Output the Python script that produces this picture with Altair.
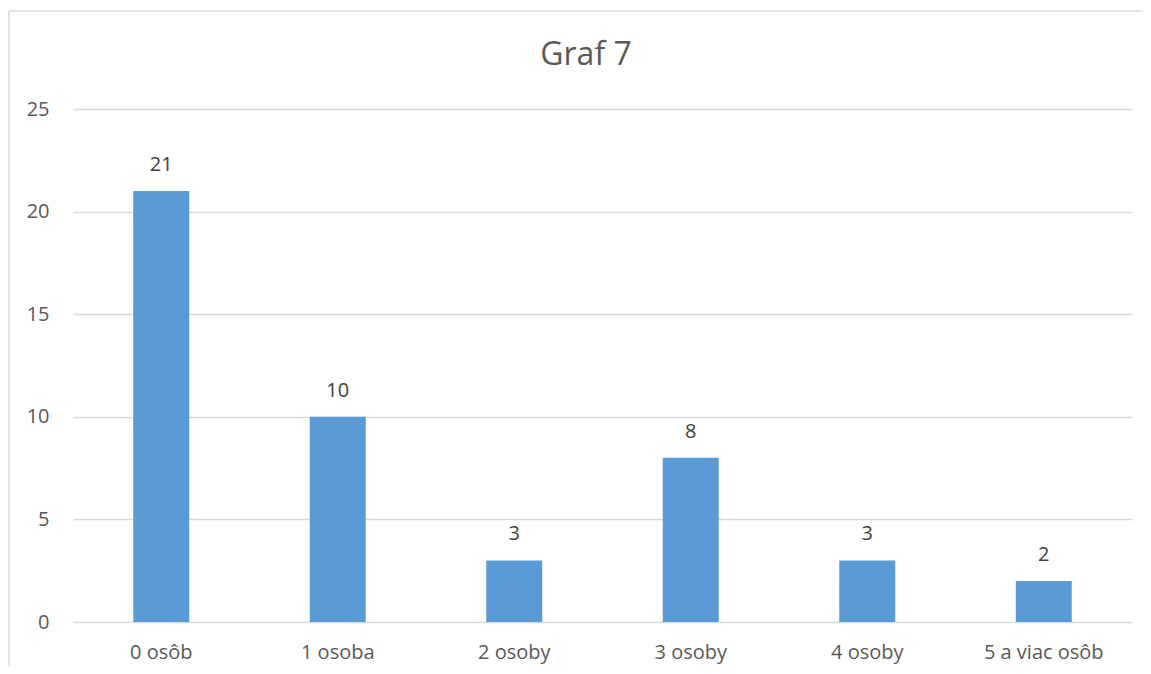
import altair as alt
import pandas as pd

categories = ["0 osôb", "1 osoba", "2 osoby", "3 osoby", "4 osoby", "5 a viac osôb"]
values = [21, 10, 3, 8, 3, 2]
title_text = ["Graf 7"]

df = pd.DataFrame({"kat": categories, "pocet": values})
tdf = pd.DataFrame({"t": title_text})

FONT = "Open Sans"
x = alt.X("kat:N", sort=categories, title=None,
          scale=alt.Scale(paddingInner=0, paddingOuter=0),
          axis=alt.Axis(labelAngle=0, labelFontSize=20, labelColor="#595959",
                        labelFont=FONT, ticks=False, domain=False, labelPadding=20))
y = alt.Y("pocet:Q", title=None,
          scale=alt.Scale(domain=[0, 25], nice=False),
          axis=alt.Axis(values=[0, 5, 10, 15, 20, 25], labelFontSize=20, labelColor="#595959",
                        labelFont=FONT, ticks=False, domain=False, labelPadding=24,
                        gridColor="#d9d9d9", gridWidth=1.3))

bars = alt.Chart(df).mark_bar(size=56, color="#5b9bd5").encode(x=x, y=y)
labels = alt.Chart(df).mark_text(dy=-16, baseline="bottom", fontSize=20, color="#404040",
                                 font=FONT).encode(x=x, y=y, text="pocet:Q")
title = alt.Chart(tdf).mark_text(fontSize=32, font=FONT, color="#595959",
                                 baseline="middle", align="center").encode(
    x=alt.value(513), y=alt.value(-54), text="t:N")
border_left = alt.Chart(tdf).mark_rule(color="#d9d9d9", strokeWidth=1.5).encode(
    x=alt.value(-64), y=alt.value(-98), y2=alt.value(700))
border_top = alt.Chart(tdf).mark_rule(color="#d9d9d9", strokeWidth=1.5).encode(
    x=alt.value(-64), x2=alt.value(1100), y=alt.value(-98))

chart = alt.layer(bars, labels, title, border_left, border_top).properties(
    width=1059, height=513,
    autosize="none",
    padding={"left": 65, "top": 101, "right": 11, "bottom": 44},
).configure_view(stroke=None)

chart.save("out.html", embed_options={"renderer": "svg", "actions": False})
